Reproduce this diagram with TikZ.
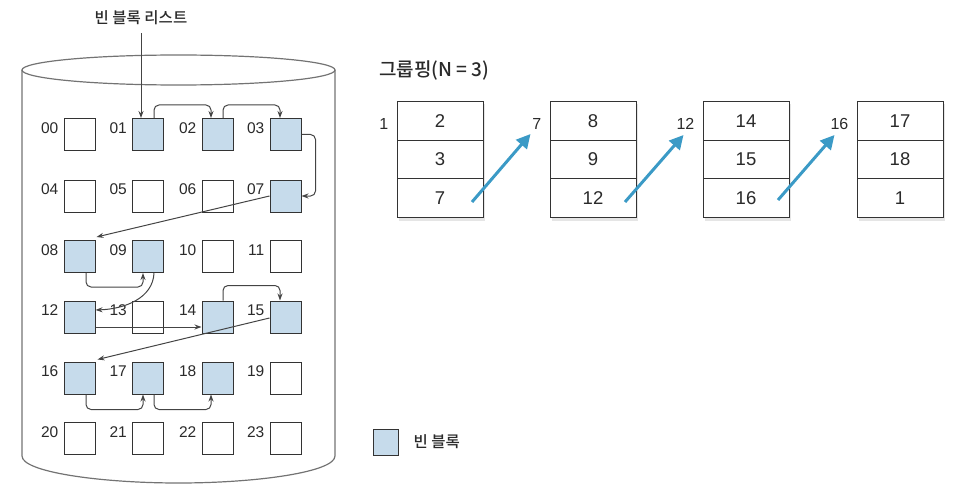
\documentclass[tikz,border=0pt]{standalone}
\usepackage{fontspec}
\setmainfont{Liberation Sans}
\newfontfamily\kr{Noto Sans CJK KR}[UprightFont=* Medium]
\usetikzlibrary{arrows.meta}
\definecolor{fillblue}{HTML}{C6DBEB}
\definecolor{linegray}{HTML}{333333}
\definecolor{conn}{HTML}{444444}
\definecolor{arrblue}{HTML}{3B9AC6}
\definecolor{txt}{HTML}{2A2A2A}
\tikzset{
  blk/.style={draw=linegray, line width=1pt, minimum width=31pt, minimum height=32pt, inner sep=0pt, fill=white},
  fb/.style={blk, fill=fillblue},
  lbl/.style={font=\fontsize{15.5}{15.5}\selectfont, text=txt, inner sep=0pt, anchor=east},
  arr/.style={draw=conn, line width=1pt, -{Stealth[length=7pt,width=5pt]}},
  rc/.style={rounded corners=5pt},
  cell/.style={draw=linegray, line width=1pt, minimum width=86pt, minimum height=38.5pt, inner sep=0pt, fill=white, font=\fontsize{18.5}{18.5}\selectfont, text=txt},
  nlbl/.style={font=\fontsize{16}{16}\selectfont, text=txt, inner sep=0pt, anchor=east},
  barr/.style={draw=arrblue, line width=3pt, -{Triangle[length=14pt,width=14pt]}},
  shad/.style={fill=black!10, draw=none}
}
\begin{document}
\begin{tikzpicture}[x=1pt,y=-1pt]
\useasboundingbox (0,0) rectangle (958,500);
% cylinder
\draw[draw=black!55, line width=1.2pt] (22,70) -- (22,456) .. controls (22,472) and (100,483) .. (178.5,483) .. controls (257,483) and (335,472) .. (335,456) -- (335,70);
\draw[draw=black!55, line width=1.2pt] (178.5,70) ellipse [x radius=156.5, y radius=15];
% blocks
\foreach \n/\x/\y/\s in {00/79.5/134.5/blk,01/148/134.5/fb,02/217.5/134.5/fb,03/285.5/134.5/fb,
  04/79.5/196/blk,05/148/196/blk,06/217.5/196/blk,07/285.5/196/fb,
  08/79.5/256.5/fb,09/148/256.5/fb,10/217.5/256.5/blk,11/285.5/256.5/blk,
  12/79.5/317/fb,13/148/317/blk,14/217.5/317/fb,15/285.5/317/fb,
  16/79.5/378/fb,17/148/378/fb,18/217.5/378/fb,19/285.5/378/blk,
  20/79.5/438.5/blk,21/148/438.5/blk,22/217.5/438.5/blk,23/285.5/438.5/blk}{
  \node[\s] (b\n) at (\x,\y) {};
  \node[lbl] (l\n) at ([xshift=-5pt,yshift=-10pt]b\n.north west) {\n};
}
% title of free list
\node[font=\kr\fontsize{15.5}{15.5}\selectfont, text=txt, inner sep=0pt] (flist) at (141,18) {빈 블록 리스트};
\draw[arr] ([yshift=-8pt]flist.south) -- (flist.south |- b01.north);
% connectors
\draw[arr,rc] ([xshift=6pt]b01.north) -- ++(0,-13) -| ([xshift=-6.5pt]b02.north);
\draw[arr,rc] ([xshift=5.5pt]b02.north) -- ++(0,-13) -| ([xshift=-5.5pt]b03.north);
\draw[arr,rc] (b03.east) -- ++(14,0) |- (b07.east);
\draw[arr] (b07.west) -- ([xshift=1pt,yshift=3pt]b08.north east);
\draw[arr,rc] ([xshift=6.5pt]b08.south) -- ++(0,14) -| ([xshift=-5pt]b09.south);
\draw[arr] ([xshift=6pt]b09.south) .. controls (153,298) and (125,309) .. ([yshift=7pt]b12.east);
\draw[arr] ([yshift=-10pt]b12.east) -- ([yshift=-10pt]b14.west);
\draw[arr,rc] ([xshift=5.5pt]b14.north) -- ++(0,-15) -| ([xshift=-5.5pt]b15.north);
\draw[arr] ([yshift=-1pt]b15.west) -- ([xshift=2pt,yshift=2pt]b16.north east);
\draw[arr,rc] ([xshift=6.5pt]b16.south) -- ++(0,15) -| ([xshift=-5pt]b17.south);
\draw[arr,rc] ([xshift=6pt]b17.south) -- ++(0,15) -| ([xshift=-6.5pt]b18.south);
% grouping
\node[font=\kr\fontsize{19}{19}\selectfont, text=txt, inner sep=0pt, anchor=west] (grp) at (379,70) {그룹핑(N = 3)};
\foreach \i/\x/\a/\b/\c/\h in {1/440/2/3/7/1, 2/593/8/9/12/7, 3/746/14/15/16/12, 4/900/17/18/1/16}{
  \fill[shad] (\x-41,104) rectangle (\x+45,221);
  \node[cell] (t\i a) at (\x,121) {\a};
  \node[cell] (t\i b) at (\x,159.5) {\b};
  \node[cell] (t\i c) at (\x,198) {\c};
  \node[nlbl] (h\i) at ([xshift=-8pt,yshift=-3pt]t\i a.west) {\h};
}
\draw[barr] ([xshift=32pt,yshift=-4pt]t1c.center) -- ([xshift=-19pt,yshift=-13pt]t2a.west);
\draw[barr] ([xshift=32pt,yshift=-4pt]t2c.center) -- ([xshift=-19pt,yshift=-14pt]t3a.west);
\draw[barr] ([xshift=32pt,yshift=-2pt]t3c.center) -- ([xshift=-22pt,yshift=-14pt]t4a.west);
% legend
\node[fb, minimum width=25pt, minimum height=26pt] (leg) at (385.5,442) {};
\node[font=\kr\fontsize{15.5}{15.5}\selectfont, text=txt, inner sep=0pt, anchor=west] (legt) at ([xshift=15pt]leg.east) {빈 블록};
\end{tikzpicture}
\end{document}
